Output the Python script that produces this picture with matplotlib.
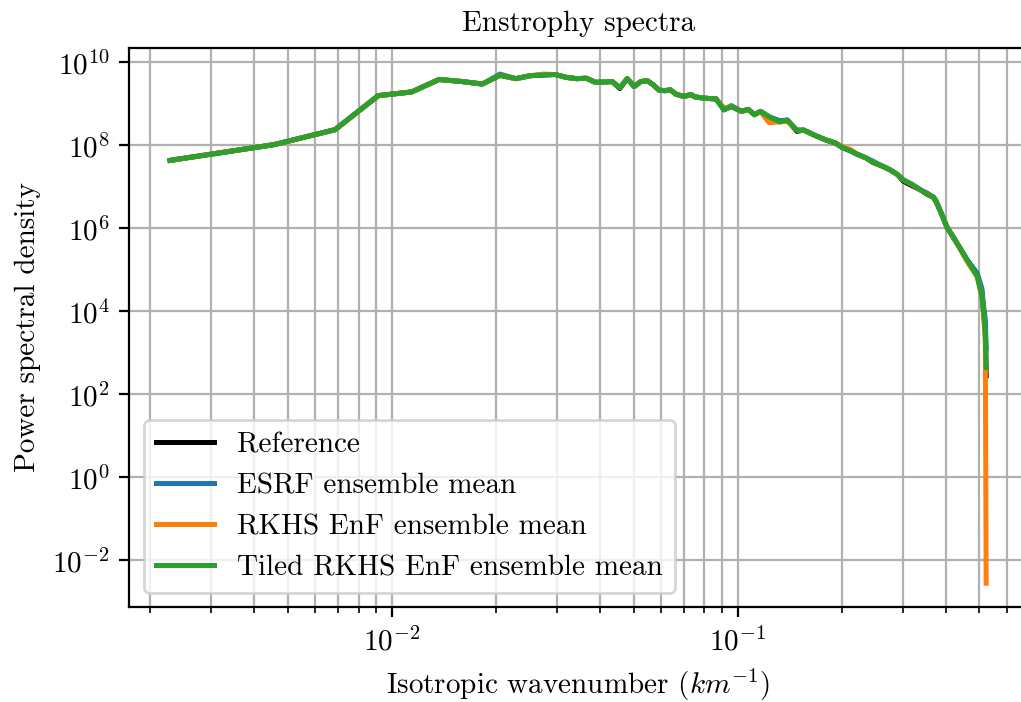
import numpy as np
import matplotlib
matplotlib.use('Agg')
import matplotlib.pyplot as plt
from matplotlib.ticker import NullLocator

plt.rcParams.update({
    'font.family': 'serif',
    'font.serif': ['cmr10'],
    'mathtext.fontset': 'cm',
    'axes.formatter.use_mathtext': True,
    'font.size': 10.5,
    'axes.titlesize': 10.5,
    'axes.labelsize': 10.5,
    'legend.fontsize': 10.5,
    'xtick.labelsize': 10.5,
    'ytick.labelsize': 10.5,
})

# isotropic wavenumbers (km^-1)
k = [0.00228, 0.00456, 0.00684, 0.00912, 0.0114, 0.01368, 0.01596, 0.01824, 0.02052, 0.0228,
     0.02508, 0.02736, 0.02964, 0.03192, 0.0342, 0.03648, 0.03876, 0.04104, 0.04332, 0.0456,
     0.04788, 0.05016, 0.05244, 0.05472, 0.057, 0.05928, 0.06156, 0.06384, 0.06612, 0.0684,
     0.07068, 0.07296, 0.07524, 0.0798, 0.0866, 0.0912, 0.0958, 0.1026, 0.1072, 0.1117,
     0.1163, 0.1231, 0.1322, 0.1391, 0.1482, 0.1550, 0.1664, 0.1801, 0.1915, 0.2006,
     0.2120, 0.2212, 0.2348, 0.2462, 0.2622, 0.2759, 0.2896, 0.3010, 0.3192, 0.3374,
     0.3534, 0.3682, 0.3739, 0.3853, 0.4022, 0.4309, 0.4606, 0.4925, 0.5084, 0.5130,
     0.5198, 0.5228]

# log10 of the power spectral density for each curve
ref_log = [7.64, 8.02, 8.38, 9.20, 9.29, 9.59, 9.54, 9.48, 9.69, 9.61,
           9.68, 9.70, 9.71, 9.64, 9.61, 9.62, 9.52, 9.53, 9.54, 9.37,
           9.61, 9.42, 9.54, 9.56, 9.46, 9.33, 9.32, 9.34, 9.24, 9.20,
           9.19, 9.23, 9.17, 9.14, 9.12, 8.86, 8.94, 8.82, 8.87, 8.74,
           8.82, 8.69, 8.57, 8.61, 8.34, 8.37, 8.25, 8.13, 8.06, 7.95,
           7.87, 7.79, 7.70, 7.59, 7.50, 7.41, 7.30, 7.14, 7.03, 6.93,
           6.82, 6.75, 6.66, 6.42, 6.04, 5.64, 5.24, 4.90, 4.45, 4.05,
           3.60, 2.45]

esrf_log = [7.64, 8.02, 8.38, 9.20, 9.29, 9.59, 9.54, 9.48, 9.72, 9.61,
            9.68, 9.70, 9.71, 9.64, 9.61, 9.62, 9.52, 9.53, 9.54, 9.39,
            9.61, 9.42, 9.54, 9.56, 9.46, 9.33, 9.32, 9.34, 9.24, 9.20,
            9.19, 9.23, 9.17, 9.14, 9.12, 8.86, 8.96, 8.82, 8.87, 8.74,
            8.82, 8.69, 8.60, 8.61, 8.37, 8.37, 8.25, 8.13, 8.06, 7.95,
            7.87, 7.79, 7.70, 7.62, 7.50, 7.41, 7.30, 7.17, 7.06, 6.93,
            6.85, 6.75, 6.68, 6.42, 6.04, 5.64, 5.24, 4.92, 4.55, 4.20,
            3.80, 3.10]

rkhs_log = [7.64, 8.02, 8.38, 9.20, 9.29, 9.59, 9.54, 9.48, 9.69, 9.61,
            9.68, 9.72, 9.71, 9.64, 9.61, 9.62, 9.52, 9.53, 9.54, 9.39,
            9.61, 9.42, 9.54, 9.56, 9.46, 9.33, 9.32, 9.34, 9.24, 9.20,
            9.19, 9.23, 9.17, 9.14, 9.12, 8.90, 8.94, 8.82, 8.87, 8.74,
            8.82, 8.55, 8.57, 8.58, 8.37, 8.37, 8.25, 8.13, 8.06, 7.97,
            7.90, 7.79, 7.70, 7.59, 7.50, 7.41, 7.30, 7.17, 7.06, 6.93,
            6.82, 6.75, 6.66, 6.42, 6.04, 5.64, 5.20, 4.84, 4.36, 4.05,
            3.30, -2.55]

tiled_log = [7.64, 8.02, 8.38, 9.20, 9.29, 9.59, 9.54, 9.48, 9.69, 9.61,
             9.68, 9.70, 9.71, 9.64, 9.61, 9.62, 9.52, 9.53, 9.54, 9.39,
             9.61, 9.42, 9.54, 9.56, 9.46, 9.33, 9.32, 9.34, 9.24, 9.20,
             9.19, 9.23, 9.17, 9.14, 9.12, 8.86, 8.94, 8.82, 8.87, 8.74,
             8.82, 8.69, 8.57, 8.61, 8.37, 8.37, 8.25, 8.13, 8.06, 7.95,
             7.87, 7.79, 7.70, 7.59, 7.50, 7.41, 7.30, 7.17, 7.06, 6.93,
             6.82, 6.75, 6.66, 6.42, 6.04, 5.64, 5.24, 4.84, 4.36, 4.05,
             3.45, 2.65]

series = [
    (ref_log, 'k', 'Reference'),
    (esrf_log, 'C0', 'ESRF ensemble mean'),
    (rkhs_log, 'C1', 'RKHS EnF ensemble mean'),
    (tiled_log, 'C2', 'Tiled RKHS EnF ensemble mean'),
]

fig = plt.figure(figsize=(5.105, 3.51), dpi=200)
ax = fig.add_axes([0.1266, 0.1349, 0.8793, 0.7974])

for vals, col, lab in series:
    ax.plot(k, 10.0 ** np.array(vals), color=col, label=lab, lw=1.8)

ax.set_xscale('log')
ax.set_yscale('log')
ax.set_xlim(10 ** -2.760, 10 ** -0.1635)
ax.set_ylim(10 ** -3.13, 10 ** 10.36)
ax.set_yticks([1e-2, 1e0, 1e2, 1e4, 1e6, 1e8, 1e10])
ax.yaxis.set_minor_locator(NullLocator())

ax.grid(True, which='both')
ax.set_title('Enstrophy spectra')
ax.set_xlabel('Isotropic wavenumber ($km^{-1}$)')
ax.set_ylabel('Power spectral density')
ax.legend(loc='lower left')

fig.savefig('out.png', dpi=200)
